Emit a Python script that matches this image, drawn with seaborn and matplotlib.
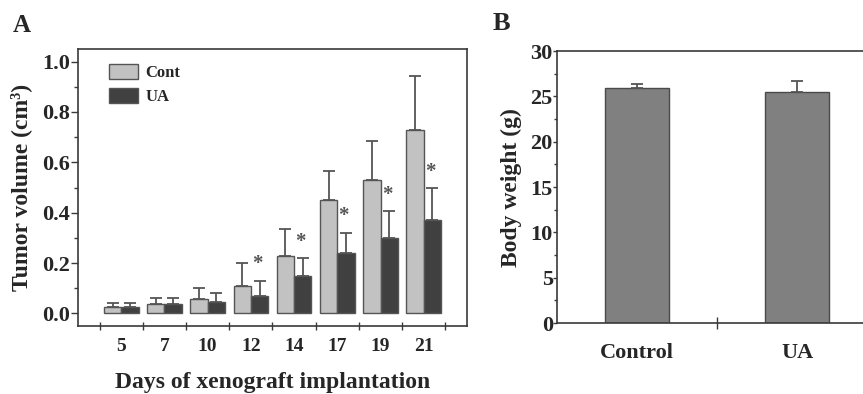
import numpy as np
import pandas as pd
import matplotlib
matplotlib.use("Agg")
import matplotlib.pyplot as plt
from matplotlib.ticker import MultipleLocator, FixedLocator
import seaborn as sns

# Panel A: tumor volume by day
days = ["5", "7", "10", "12", "14", "17", "19", "21"]
cont_mean = [0.027, 0.037, 0.057, 0.108, 0.229, 0.450, 0.528, 0.728]
cont_sd = [0.013, 0.023, 0.043, 0.092, 0.108, 0.115, 0.156, 0.213]
ua_mean = [0.027, 0.037, 0.047, 0.068, 0.149, 0.240, 0.300, 0.369]
ua_sd = [0.013, 0.023, 0.033, 0.062, 0.071, 0.080, 0.106, 0.129]
star_days = ["12", "14", "17", "19", "21"]

# Panel B: body weight
groups = ["Control", "UA"]
weight_mean = [25.95, 25.45]
weight_sd = [0.45, 1.25]

sns.set_theme(style="white")
plt.rcParams["font.family"] = ["Liberation Serif", "DejaVu Serif"]
plt.rcParams["font.weight"] = "bold"
plt.rcParams["axes.labelweight"] = "bold"

edge = "#3a3a3a"
err_col = "#555555"

df = pd.DataFrame({
    "day": days * 2,
    "group": ["Cont"] * len(days) + ["UA"] * len(days),
    "volume": cont_mean + ua_mean,
})
sd_map = {"Cont": cont_sd, "UA": ua_sd}

fig = plt.figure(figsize=(8.63, 3.94), dpi=100)
axA = fig.add_axes([0.0904, 0.1726, 0.4507, 0.703])
axB = fig.add_axes([0.6454, 0.180, 0.3546, 0.6904])

# ---- Panel A
sns.barplot(data=df, x="day", y="volume", hue="group", order=days,
            hue_order=["Cont", "UA"],
            palette={"Cont": "#c2c2c2", "UA": "#404040"},
            errorbar=None, edgecolor="#555555", linewidth=1.0, ax=axA)

for cont, name in zip(axA.containers, ["Cont", "UA"]):
    xs = [b.get_x() + b.get_width() / 2 for b in cont]
    hs = [b.get_height() for b in cont]
    sds = sd_map[name]
    axA.errorbar(xs, hs, yerr=[np.zeros(len(sds)), sds], fmt="none",
                 ecolor=err_col, elinewidth=1.3, capsize=4, capthick=1.3,
                 zorder=1)
    if name == "UA":
        for d, x, h, s in zip(days, xs, hs, sds):
            if d in star_days:
                axA.text(x - 0.05, h + s + 0.045, "*", ha="center",
                         va="baseline", fontsize=15, color=err_col,
                         fontweight="bold")

axA.set_xlim(-1, 8)
axA.set_ylim(-0.05, 1.05)
axA.yaxis.set_minor_locator(MultipleLocator(0.1))
axA.set_yticks(np.arange(0, 1.01, 0.2))
axA.set_yticklabels([f"{v:.1f}" for v in np.arange(0, 1.01, 0.2)])
axA.xaxis.set_minor_locator(FixedLocator(np.arange(-0.5, 8, 1)))
axA.tick_params(axis="x", which="major", length=0, pad=9, labelsize=14)
axA.tick_params(axis="x", which="minor", direction="inout", length=6,
                width=1, color=edge, bottom=True)
axA.tick_params(axis="y", which="major", direction="out", length=5,
                width=1, color=edge, labelsize=16, pad=1, left=True)
axA.tick_params(axis="y", which="minor", direction="out", length=3,
                width=1, color=edge, left=True)
axA.set_xlabel("Days of xenograft implantation", fontsize=17, labelpad=12)
axA.set_ylabel("Tumor volume (cm³)", fontsize=17, labelpad=7)
for sp in axA.spines.values():
    sp.set_color(edge)
    sp.set_linewidth(1.2)

sns.move_legend(axA, "upper left", bbox_to_anchor=(0.04, 1.0),
                frameon=False, title=None, fontsize=12, handlelength=1.75,
                handleheight=1.0, labelspacing=0.4, handletextpad=0.45)

# ---- Panel B
dfb = pd.DataFrame({"group": groups, "weight": weight_mean})
sns.barplot(data=dfb, x="group", y="weight", order=groups, color="#808080",
            errorbar=None, width=0.4, edgecolor="#4a4a4a", linewidth=1.0,
            saturation=1, ax=axB)
xs = [b.get_x() + b.get_width() / 2 for b in axB.patches]
hs = [b.get_height() for b in axB.patches]
axB.errorbar(xs, hs, yerr=[np.zeros(len(weight_sd)), weight_sd], fmt="none",
             ecolor=err_col, elinewidth=1.3, capsize=4, capthick=1.3, zorder=1)

axB.set_xlim(-0.5, 1.41)
axB.set_ylim(0, 30)
axB.yaxis.set_major_locator(MultipleLocator(5))
axB.yaxis.set_minor_locator(MultipleLocator(2.5))
axB.xaxis.set_minor_locator(FixedLocator([0.5]))
axB.tick_params(axis="x", which="major", length=0, pad=14, labelsize=16)
axB.tick_params(axis="x", which="minor", direction="inout", length=8,
                width=1, color=edge, bottom=True)
axB.tick_params(axis="y", which="major", direction="out", length=3,
                width=1, color=edge, labelsize=16, pad=0, left=True)
axB.tick_params(axis="y", which="minor", direction="out", length=2,
                width=1, color=edge, left=True)
axB.set_xlabel("")
axB.set_ylabel("Body weight (g)", fontsize=17, labelpad=6)
for sp in axB.spines.values():
    sp.set_color(edge)
    sp.set_linewidth(1.2)
axB.spines["right"].set_visible(False)

fig.text(0.015, 0.92, "A", fontsize=18, fontweight="bold")
fig.text(0.571, 0.925, "B", fontsize=19, fontweight="bold")

fig.savefig("out.png", dpi=100)
